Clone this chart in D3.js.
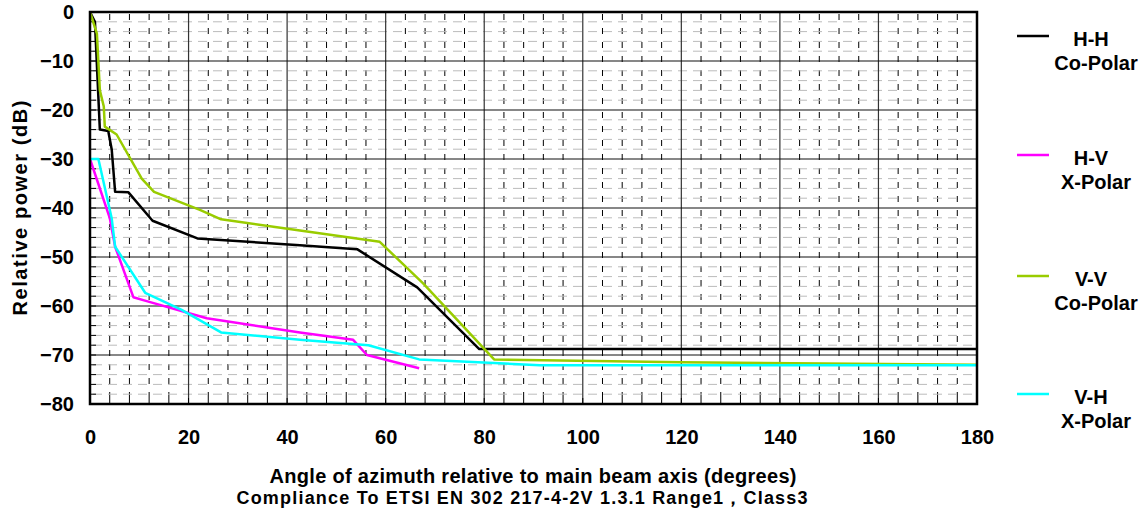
<!DOCTYPE html>
<html>
<head>
<meta charset="utf-8">
<script src="https://cdn.jsdelivr.net/npm/d3@7"></script>
<style>
  body { margin: 0; background: #fff; }
  text { font-family: "Liberation Sans", Arial, sans-serif; font-weight: bold; fill: #000; }
</style>
</head>
<body>
<div id="chart"></div>
<script>
// series data: [angle in degrees, relative power in dB]
var hhCoPolar = [[0,0],[1,-2],[2,-24],[3.7,-24.3],[4.4,-28],[5.1,-36.7],[7.8,-36.8],[12.7,-42.6],[21.8,-46.2],[42.6,-47.6],[54.2,-48.4],[66.4,-56.2],[79,-68.8],[180,-68.8]];
var hvXPolar = [[0,-30],[4,-42],[5.1,-47.9],[8.8,-58.2],[11.5,-59],[23.7,-62.5],[42.6,-65.4],[53.4,-66.9],[56.2,-70],[66.8,-72.7]];
var vvCoPolar = [[0,0],[1.4,-4.4],[2,-16],[2.8,-19.3],[3,-23.4],[5.4,-25],[10.5,-34],[13,-36.7],[22.3,-40.4],[26.6,-42.3],[42.6,-44.6],[58.8,-46.9],[67.6,-55.4],[82,-70.9],[120,-71.5],[180,-72]];
var vhXPolar = [[0,-30],[1.7,-30],[4.4,-42.1],[5.1,-47.9],[11.2,-57.3],[18.6,-60.8],[26.6,-65.4],[42.6,-66.9],[56.5,-68],[66.8,-70.9],[91.3,-72.1],[180,-72.1]];

var seriesNames = ["H-H", "H-V", "V-V", "V-H"];
var seriesSub = ["Co-Polar", "X-Polar", "Co-Polar", "X-Polar"];
var seriesColors = ["#000000", "#ff00ff", "#99cc00", "#00ffff"];
var seriesData = [hhCoPolar, hvXPolar, vvCoPolar, vhXPolar];

var xTicks = [0, 20, 40, 60, 80, 100, 120, 140, 160, 180];
var yTicks = [0, -10, -20, -30, -40, -50, -60, -70, -80];

var outerWidth = 1146, outerHeight = 522;
var margin = {top: 12, left: 90};
var innerWidth = 887, innerHeight = 392;

var svg = d3.select("#chart").append("svg")
  .attr("width", outerWidth)
  .attr("height", outerHeight);

var g = svg.append("g")
  .attr("transform", "translate(" + margin.left + "," + margin.top + ")");

var xScale = d3.scaleLinear().domain([0, 180]).range([0, innerWidth]);
var yScale = d3.scaleLinear().domain([-80, 0]).range([innerHeight, 0]);

// minor grid
g.selectAll(".vminor")
  .data(d3.range(4, 180, 4).filter(function(d){ return d % 20 !== 0; }))
  .enter().append("line")
  .attr("x1", function(d){ return xScale(d); })
  .attr("x2", function(d){ return xScale(d); })
  .attr("y1", 0).attr("y2", innerHeight)
  .attr("stroke", "#000").attr("stroke-width", 1)
  .attr("stroke-dasharray", "6,8").attr("stroke-dashoffset", -2);

g.selectAll(".hminor")
  .data(d3.range(-78, 0, 2).filter(function(d){ return d % 10 !== 0; }))
  .enter().append("line")
  .attr("x1", 0).attr("x2", innerWidth)
  .attr("y1", function(d){ return yScale(d); })
  .attr("y2", function(d){ return yScale(d); })
  .attr("stroke", "#bbb").attr("stroke-width", 1)
  .attr("stroke-dasharray", "9,6").attr("stroke-dashoffset", -3);

// major grid
g.selectAll(".vmajor")
  .data(xTicks.slice(1, -1))
  .enter().append("line")
  .attr("x1", function(d){ return xScale(d); })
  .attr("x2", function(d){ return xScale(d); })
  .attr("y1", 0).attr("y2", innerHeight)
  .attr("stroke", "#333").attr("stroke-width", 1.2);

g.selectAll(".hmajor")
  .data(yTicks.slice(1, -1))
  .enter().append("line")
  .attr("x1", 0).attr("x2", innerWidth)
  .attr("y1", function(d){ return yScale(d); })
  .attr("y2", function(d){ return yScale(d); })
  .attr("stroke", "#111").attr("stroke-width", 1.2);

// small inward ticks on left and bottom axes
g.selectAll(".ltick")
  .data(d3.range(-78, 0, 2))
  .enter().append("line")
  .attr("x1", 0).attr("x2", 6)
  .attr("y1", function(d){ return yScale(d); })
  .attr("y2", function(d){ return yScale(d); })
  .attr("stroke", "#000").attr("stroke-width", 1);

g.selectAll(".btick")
  .data(d3.range(4, 180, 4))
  .enter().append("line")
  .attr("x1", function(d){ return xScale(d); })
  .attr("x2", function(d){ return xScale(d); })
  .attr("y1", innerHeight).attr("y2", innerHeight - 6)
  .attr("stroke", "#000").attr("stroke-width", 1);

// lines
var line = d3.line()
  .x(function(d){ return xScale(d[0]); })
  .y(function(d){ return yScale(d[1]); });

seriesData.forEach(function(data, i) {
  g.append("path")
    .datum(data)
    .attr("fill", "none")
    .attr("stroke", seriesColors[i])
    .attr("stroke-width", 2.5)
    .attr("stroke-linejoin", "round")
    .attr("d", line);
});

// frame
g.append("rect")
  .attr("x", 0).attr("y", 0)
  .attr("width", innerWidth).attr("height", innerHeight)
  .attr("fill", "none").attr("stroke", "#000").attr("stroke-width", 2.5);

// axes labels
var xAxis = d3.axisBottom(xScale).tickValues(xTicks).tickSize(0).tickPadding(26);
var yAxis = d3.axisLeft(yScale).tickValues(yTicks).tickSize(0).tickPadding(16);

g.append("g")
  .attr("transform", "translate(0," + innerHeight + ")")
  .attr("font-family", null).attr("font-size", null)
  .call(xAxis)
  .call(function(s){ s.select(".domain").remove(); })
  .selectAll("text")
  .style("font-size", "20px")
  .style("font-weight", "bold")
  .attr("fill", "#000");

g.append("g")
  .call(yAxis)
  .call(function(s){ s.select(".domain").remove(); })
  .selectAll("text")
  .style("font-size", "20px")
  .style("font-weight", "bold")
  .attr("fill", "#000");

// titles
svg.append("text")
  .attr("x", 533).attr("y", 483)
  .attr("text-anchor", "middle")
  .attr("font-size", 20)
  .attr("textLength", 527).attr("lengthAdjust", "spacing")
  .text("Angle of azimuth relative to main beam axis (degrees)");

svg.append("text")
  .attr("x", 522).attr("y", 504)
  .attr("text-anchor", "middle")
  .attr("font-size", 18)
  .attr("textLength", 571).attr("lengthAdjust", "spacing")
  .text("Compliance To ETSI EN 302 217-4-2V 1.3.1 Range1，Class3");

svg.append("text")
  .attr("transform", "translate(27,208) rotate(-90)")
  .attr("text-anchor", "middle")
  .attr("font-size", 20)
  .attr("textLength", 215).attr("lengthAdjust", "spacing")
  .text("Relative power (dB)");

// legend
var legendY = [36, 155, 276, 394];
var legend = svg.selectAll(".legend")
  .data(seriesNames)
  .enter().append("g")
  .attr("transform", function(d, i){ return "translate(0," + legendY[i] + ")"; });

legend.append("line")
  .attr("x1", 1017).attr("x2", 1049)
  .attr("y1", 0).attr("y2", 0)
  .attr("stroke", function(d, i){ return seriesColors[i]; })
  .attr("stroke-width", 2.5);

legend.append("text")
  .attr("x", 1091).attr("y", 10)
  .attr("text-anchor", "middle")
  .attr("font-size", 20)
  .text(function(d){ return d; });

legend.append("text")
  .attr("x", 1096).attr("y", 34)
  .attr("text-anchor", "middle")
  .attr("font-size", 20)
  .text(function(d, i){ return seriesSub[i]; });
</script>
</body>
</html>
